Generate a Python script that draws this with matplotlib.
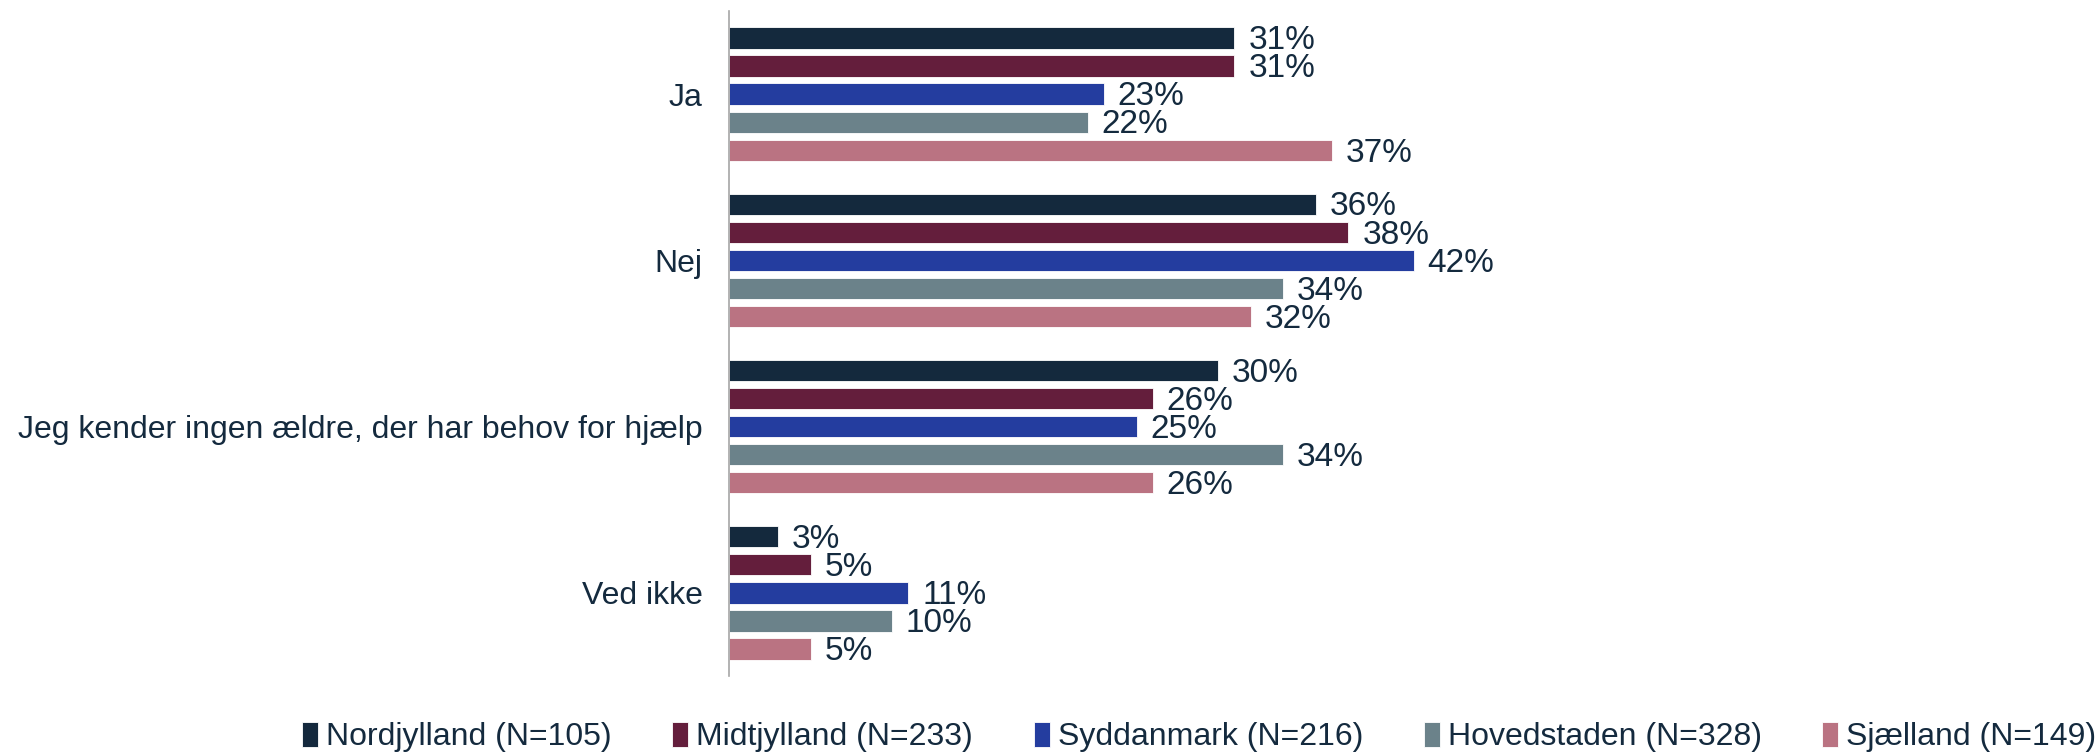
import matplotlib
matplotlib.use("Agg")
import matplotlib.pyplot as plt
import numpy as np

plt.rcParams['font.family'] = ['Liberation Sans', 'DejaVu Sans']

categories = ["Ja", "Nej", "Jeg kender ingen ældre, der har behov for hjælp", "Ved ikke"]
series_names = ["Nordjylland (N=105)", "Midtjylland (N=233)", "Syddanmark (N=216)",
                "Hovedstaden (N=328)", "Sjælland (N=149)"]
nordjylland = [31, 36, 30, 3]
midtjylland = [31, 38, 26, 5]
syddanmark = [23, 42, 25, 11]
hovedstaden = [22, 34, 34, 10]
sjaelland = [37, 32, 26, 5]
colors = ["#14293D", "#641E3C", "#243D9F", "#6B828A", "#BA7382"]

series = [nordjylland, midtjylland, syddanmark, hovedstaden, sjaelland]
text_color = "#142A3E"

fig = plt.figure(figsize=(21, 7.55), dpi=100)
ax = fig.add_axes([729 / 2100, 1 - 676 / 755, (2100 - 729) / 2100, 665 / 755])

n = len(series)
step = 0.169
bar_h = 0.128
y_base = np.arange(len(categories))
for i, (vals, col, name) in enumerate(zip(series, colors, series_names)):
    y = y_base + (i - (n - 1) / 2) * step
    ax.barh(y, vals, height=bar_h, color=col, label=name,
            edgecolor="white", linewidth=0.6)
    for yy, v in zip(y, vals):
        ax.annotate(f"{v}%", (v, yy), xytext=(10, -2), textcoords="offset points",
                    va="center", ha="left", fontsize=24, color=text_color)

px_per_pct = 16.3
ax.set_xlim(0, (2100 - 729) / px_per_pct)
ax.set_ylim(len(categories) - 0.5, -0.5)
ax.set_yticks(y_base)
ax.set_yticklabels(categories, fontsize=23, color=text_color)
ax.tick_params(axis="y", length=0, pad=19)
ax.set_xticks([])
for s in ["top", "right", "bottom"]:
    ax.spines[s].set_visible(False)
ax.spines["left"].set_color("#A6A6A6")
ax.spines["left"].set_linewidth(1.2)

leg = fig.legend(loc="center", bbox_to_anchor=(0.571, 1 - 737 / 755), ncol=5,
                 frameon=False, fontsize=23, handlelength=0.5, handleheight=0.85,
                 handletextpad=0.25, columnspacing=1.9, borderaxespad=0)
for t in leg.get_texts():
    t.set_color(text_color)

fig.savefig("out.png", dpi=100, facecolor="white")
